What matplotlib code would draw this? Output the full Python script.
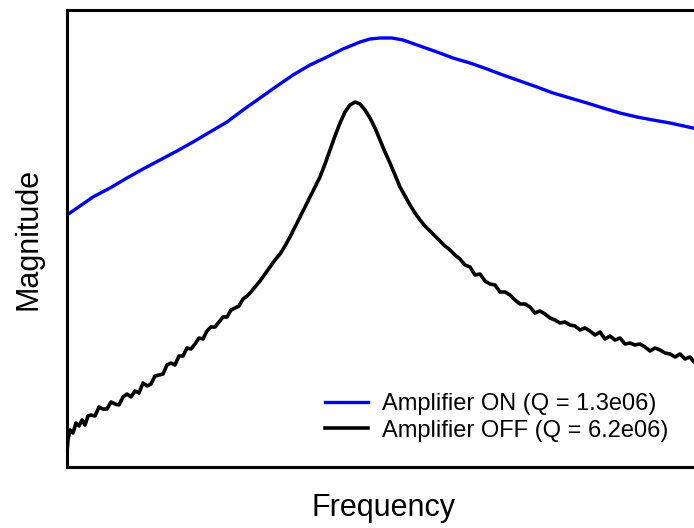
import numpy as np
import matplotlib
matplotlib.use('Agg')
import matplotlib.pyplot as plt

plt.rcParams['font.family'] = ['Liberation Sans', 'DejaVu Sans']

# frequency offset (arb. units) / magnitude (arb. units)
freq_on = [0, 13, 26, 43, 60, 76, 93, 110, 126, 143, 160, 176, 193, 210, 226,
           243, 260, 276, 293, 303, 313, 325, 336, 353, 370, 386, 403, 420,
           436, 453, 470, 486, 503, 520, 536, 553, 570, 586, 603, 626, 634]
mag_on = [252, 261, 270, 279, 289, 298, 307, 316, 325, 335, 345, 357, 369,
          381, 392, 402, 410, 418, 425, 428, 429, 429, 427, 421, 415, 409,
          404, 398, 392, 386, 380, 374, 369, 364, 359, 354, 350, 347, 344,
          339, 337]

freq_off = [0, 1, 3, 6, 9, 12, 15, 18, 21, 24, 28, 32, 36, 40, 44, 48, 52, 56,
            60, 64, 68, 72, 76, 80, 84, 88, 92, 96, 100, 104, 108, 112, 116,
            120, 124, 128, 132, 136, 140, 144, 148, 152, 156, 160, 164, 168,
            172, 176, 180, 184, 188, 193, 198, 203, 208, 213, 218, 223, 228,
            233, 238, 243, 248, 253, 258, 263, 268, 273, 278, 283, 288, 293,
            298, 303, 308, 313, 318, 323, 328, 333, 338, 343, 348, 353, 358,
            363, 368, 373, 378, 383, 388, 393, 398, 403, 408, 413, 418, 423,
            428, 433, 438, 443, 448, 453, 458, 463, 468, 473, 478, 483, 488,
            493, 498, 503, 508, 513, 518, 523, 528, 533, 538, 543, 548, 553,
            558, 563, 568, 573, 578, 583, 588, 593, 598, 603, 608, 613, 618,
            623, 627, 634]
mag_off = [15, 27, 37, 34, 44, 41, 47, 42, 51, 52, 51, 60, 58, 58, 65, 63, 62,
           70, 73, 70, 76, 74, 84, 81, 83, 91, 92, 93, 102, 104, 102, 111, 111,
           119, 118, 123, 129, 128, 136, 140, 140, 145, 150, 150, 157, 159,
           161, 168, 171, 175, 180, 186, 193, 200, 207, 213, 221, 230, 240,
           250, 260, 270, 280, 290, 303, 317, 331, 344, 355, 362, 365, 363,
           357, 349, 339, 327, 315, 304, 292, 280, 271, 262, 254, 247, 241,
           236, 231, 226, 221, 217, 212, 208, 202, 200, 192, 193, 186, 183,
           182, 175, 175, 172, 167, 163, 163, 160, 154, 156, 153, 149, 147,
           144, 145, 142, 141, 137, 139, 136, 132, 135, 128, 131, 127, 129,
           123, 124, 122, 123, 120, 116, 119, 117, 114, 113, 110, 113, 108,
           110, 105, 105]

labels = ['Amplifier ON (Q = 1.3e06)', 'Amplifier OFF (Q = 6.2e06)']

fig = plt.figure(figsize=(6.94, 5.28), dpi=100)
ax = fig.add_axes([67 / 694, 61 / 528, 634 / 694, 457 / 528])

ax.plot(freq_on, mag_on, color='#0000f0', lw=2.4, label=labels[0])
ax.plot(freq_off, mag_off, color='black', lw=2.6, label=labels[1])

ax.set_xlim(0, 634)
ax.set_ylim(0, 457)
ax.set_xticks([])
ax.set_yticks([])
for s in ax.spines.values():
    s.set_linewidth(2.2)

ax.set_xlabel('Frequency', fontsize=22, labelpad=19)
ax.set_ylabel('Magnitude', fontsize=22, labelpad=17)

ax.legend(loc='upper left', bbox_to_anchor=(325 / 694, 1 - 393 / 528),
          bbox_transform=fig.transFigure, frameon=False, fontsize=17,
          handlelength=1.8, handletextpad=0.6, labelspacing=0.2,
          borderpad=0, borderaxespad=0)

fig.savefig('out.png', dpi=100)
